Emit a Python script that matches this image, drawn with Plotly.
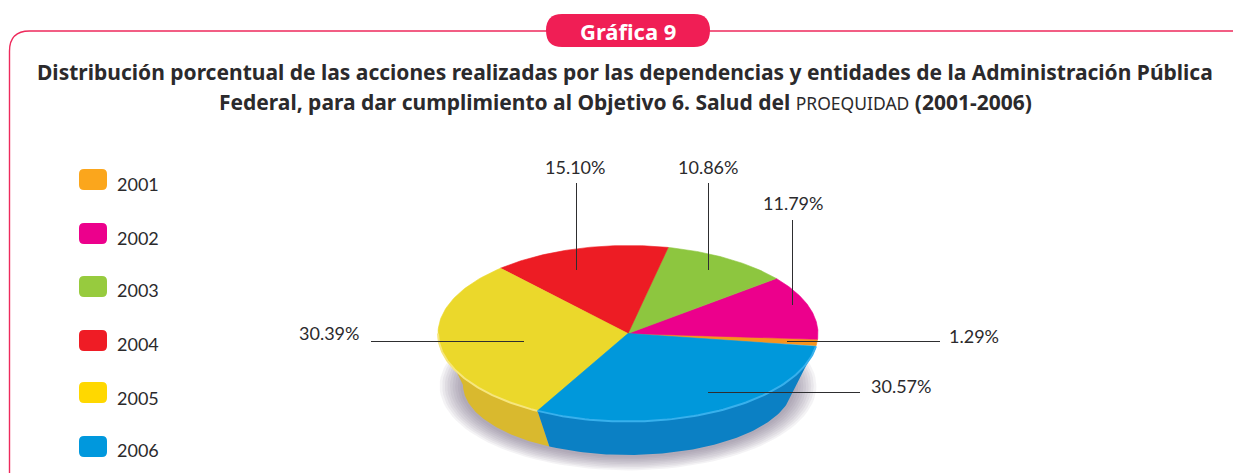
import numpy as np
import plotly.graph_objects as go

years = ["2001", "2002", "2003", "2004", "2005", "2006"]
values = [1.29, 11.79, 10.86, 15.10, 30.39, 30.57]
labels = ["1.29%", "11.79%", "10.86%", "15.10%", "30.39%", "30.57%"]
colors = ["#F7941D", "#EC008C", "#8DC63F", "#ED1C24", "#EBD82B", "#0098DB"]
legend_colors = ["#FBA61C", "#EC008C", "#97CB3E", "#EF1C25", "#FFD800", "#0098DD"]
wall_colors = {"2005": "#D9B92E", "2006": "#0B80C4"}
rim_colors = {"2005": "#F6E67E", "2006": "#38B0EC"}

title_1 = "Distribución porcentual de las acciones realizadas por las dependencias y entidades de la Administración Pública"
title_2 = 'Federal, para dar cumplimiento al Objetivo 6. Salud del <span style="font-size:17.5px;font-weight:normal">PROEQUIDAD</span> (2001-2006)'
badge = "Gráfica 9"

# Layout constants (page pixels)
CX, CY, RX, RY = 628, 333.5, 190, 88
BX, BY, BRX, BRY = 628, 385, 165, 70
START = 351.6
legend_box_y = [169, 223, 276, 330, 382, 436]
legend_text_y = [184, 238, 290, 344, 398, 450]
# year index -> (label x, label y, anchor, line x0, y0, x1, y1)
leaders = {
    0: (947, 336, "left", 787, 341.5, 940, 341.5),
    1: (793, 203, "center", 792.5, 220, 792.5, 305),
    2: (708, 167, "center", 708.5, 183, 708.5, 270),
    3: (575, 167, "center", 576.5, 183, 576.5, 270),
    4: (361, 333, "right", 371, 341.5, 524, 341.5),
    5: (869, 386, "left", 708, 392.5, 860, 392.5),
}
FONT = "Lato"
TITLE_FONT = "Noto Sans"
INK = "#2B2A2C"
PINK = "#EE2A5C"

fracs = np.array(values) / sum(values) * 360
edges = START + np.concatenate([[0], np.cumsum(fracs)])
FRONT0, FRONT1 = 540, 720  # front half of the dish, one turn past START


def top(a):
    r = np.radians(a)
    return CX + RX * np.cos(r), CY - RY * np.sin(r)


def bottom(a):
    r = np.radians(a)
    return BX + BRX * np.cos(r), BY - BRY * np.sin(r)


fig = go.Figure()

# soft shadow below the dish
for k in range(9, 0, -1):
    t = np.linspace(0, 360, 121)
    r = np.radians(t)
    fig.add_trace(go.Scatter(
        x=BX + (BRX + 2.6 * k) * np.cos(r), y=BY + 1 - (BRY + 1.6 * k) * np.sin(r),
        mode="lines", line_width=0, fill="toself", fillcolor="rgba(95,85,120,0.07)",
        hoverinfo="skip", showlegend=False))

# visible side wall
for i, yr in enumerate(years):
    if yr not in wall_colors:
        continue
    t = np.linspace(max(edges[i], FRONT0), min(edges[i + 1], FRONT1), 80)
    tx, ty = top(t)
    bx, by = bottom(t[::-1])
    fig.add_trace(go.Scatter(
        x=np.concatenate([tx, bx]), y=np.concatenate([ty, by]),
        mode="lines", line_width=0, fill="toself", fillcolor=wall_colors[yr],
        hoverinfo="skip", showlegend=False))

# top face, one wedge per year
for i, yr in enumerate(years):
    t = np.linspace(edges[i], edges[i + 1], 80)
    ex, ey = top(t)
    fig.add_trace(go.Scatter(
        x=np.concatenate([[CX], ex, [CX]]), y=np.concatenate([[CY], ey, [CY]]),
        mode="lines", line=dict(width=0.6, color=colors[i]), fill="toself", fillcolor=colors[i],
        name=yr, text=labels[i], hoverinfo="name+text", showlegend=False))

# bright rim on the front edge
for i, yr in enumerate(years):
    if yr not in rim_colors:
        continue
    t = np.linspace(max(edges[i], FRONT0), min(edges[i + 1], FRONT1 - 8), 80)
    ex, ey = top(t)
    fig.add_trace(go.Scatter(x=ex, y=ey, mode="lines",
                             line=dict(width=2, color=rim_colors[yr]),
                             hoverinfo="skip", showlegend=False))

shapes = []
annotations = []


def text(x, y, s, size, anchor="center", color=INK, bold=False, family=FONT):
    annotations.append(dict(
        x=x, y=y, xref="x", yref="y", text=f"<b>{s}</b>" if bold else s, showarrow=False,
        xanchor=anchor, yanchor="middle", align="center",
        font=dict(family=family, size=size, color=color)))


# frame and badge
shapes.append(dict(type="path", path="M 9.5 473 L 9.5 51 Q 9.5 31 29.5 31 L 1233 31",
                   line=dict(color=PINK, width=1.4), xref="x", yref="y"))
shapes.append(dict(type="path",
                   path="M 562 14 L 694 14 Q 710 14 710 30.5 Q 710 47 694 47 L 562 47 Q 546 47 546 30.5 Q 546 14 562 14 Z",
                   fillcolor="#F01E55", line=dict(width=0), xref="x", yref="y"))
text(628, 30.5, badge, 22, color="white", bold=True, family=TITLE_FONT)
text(625, 72, title_1, 21, bold=True, family=TITLE_FONT)
text(625, 102, title_2, 21, bold=True, family=TITLE_FONT)

# legend
for yr, col, by_, ty_ in zip(years, legend_colors, legend_box_y, legend_text_y):
    x0, x1, y0, y1, c = 79, 107, by_, by_ + 21, 5
    shapes.append(dict(
        type="path",
        path=f"M {x0+c} {y0} L {x1-c} {y0} Q {x1} {y0} {x1} {y0+c} L {x1} {y1-c} Q {x1} {y1} {x1-c} {y1} "
             f"L {x0+c} {y1} Q {x0} {y1} {x0} {y1-c} L {x0} {y0+c} Q {x0} {y0} {x0+c} {y0} Z",
        fillcolor=col, line=dict(width=0), xref="x", yref="y"))
    text(115, ty_, yr, 18, anchor="left")

# leader lines and value labels
for i, lab in enumerate(labels):
    lx, ly, anc, x0, y0, x1, y1 = leaders[i]
    shapes.append(dict(type="line", x0=x0, y0=y0, x1=x1, y1=y1, xref="x", yref="y",
                       line=dict(color="#2E2E30", width=1), layer="above"))
    text(lx, ly, lab, 18, anchor=anc)

fig.update_layout(
    width=1233, height=473, margin=dict(l=0, r=0, t=0, b=0),
    paper_bgcolor="white", plot_bgcolor="white", showlegend=False,
    xaxis=dict(range=[0, 1233], visible=False, fixedrange=True),
    yaxis=dict(range=[473, 0], visible=False, fixedrange=True),
    shapes=shapes, annotations=annotations)

fig.write_html("out.html", config=dict(displayModeBar=False),
               post_script="document.body.style.margin='0';document.body.style.overflow='hidden';")
